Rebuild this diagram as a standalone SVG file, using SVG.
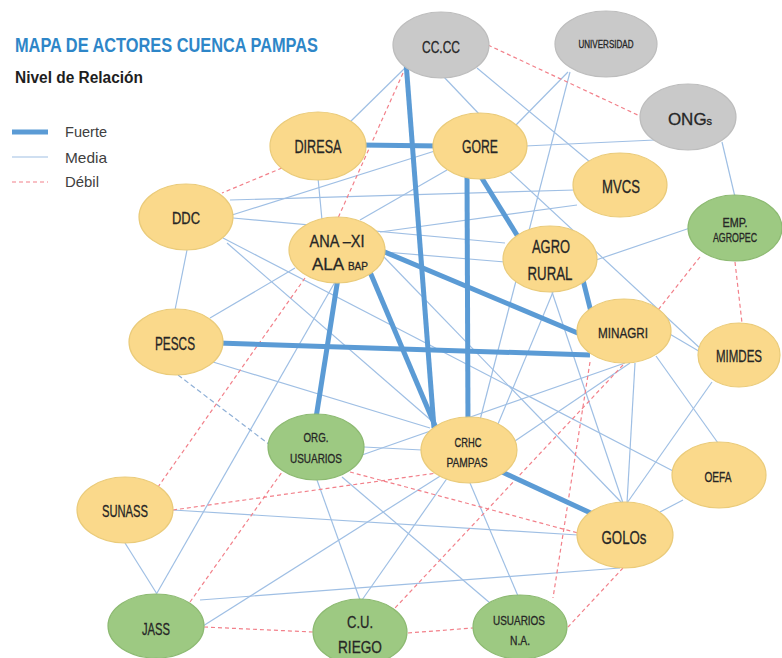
<svg xmlns="http://www.w3.org/2000/svg" width="782" height="658" viewBox="0 0 782 658">
<style>
.bg{fill:#ffffff}
.y{fill:#FAD98B;stroke:#EACB7A;stroke-width:1.2}
.g{fill:#9DC982;stroke:#8DBA72;stroke-width:1.2}
.s{fill:#C9C9C9;stroke:#BDBDBD;stroke-width:1.2}
.t{font-family:"Liberation Sans",Arial,sans-serif;fill:#262626;stroke:#262626;stroke-width:0.3;text-anchor:middle}
.thick{stroke:#5B9BD5;stroke-width:5;fill:none}
.thin{stroke:#9FBFE4;stroke-width:1.2;fill:none}
.weak{stroke:#F2808A;stroke-width:1.2;stroke-dasharray:4 3;fill:none}
.bweak{stroke:#8EAFD6;stroke-width:1.2;stroke-dasharray:5 3;fill:none}
.leg{font-family:"Liberation Sans",Arial,sans-serif;fill:#404040;font-size:15px}
</style>
<rect class="bg" x="0" y="0" width="782" height="658"/>
<g id="title">
<text x="15" y="52" font-family="Liberation Sans,Arial,sans-serif" font-weight="bold" font-size="21" fill="#2E86C8" textLength="303" lengthAdjust="spacingAndGlyphs">MAPA DE ACTORES CUENCA PAMPAS</text>
<text x="15" y="83" font-family="Liberation Sans,Arial,sans-serif" font-weight="bold" font-size="16" fill="#1E1E1E" textLength="128" lengthAdjust="spacingAndGlyphs">Nivel de Relación</text>
</g>
<g id="legend">
<line class="thick" x1="12" y1="132" x2="48" y2="132"/>
<text class="leg" x="65" y="137" textLength="42" lengthAdjust="spacingAndGlyphs">Fuerte</text>
<line class="thin" x1="12" y1="157" x2="48" y2="157"/>
<text class="leg" x="65" y="163" textLength="42" lengthAdjust="spacingAndGlyphs">Media</text>
<line class="weak" x1="12" y1="182" x2="48" y2="182"/>
<text class="leg" x="65" y="187" textLength="34" lengthAdjust="spacingAndGlyphs">Débil</text>
</g>
<g id="connectors">
<line class="thin" x1="405" y1="68" x2="350" y2="122"/>
<line class="thin" x1="443" y1="76" x2="480" y2="115"/>
<line class="thin" x1="477" y1="68" x2="590" y2="162"/>
<line class="thin" x1="568" y1="72" x2="515" y2="126"/>
<line class="thin" x1="570" y1="72" x2="480" y2="420"/>
<line class="thin" x1="525" y1="146" x2="655" y2="140"/>
<line class="thin" x1="722" y1="142" x2="735" y2="197"/>
<line class="thin" x1="318" y1="178" x2="322" y2="220"/>
<line class="thin" x1="232" y1="215" x2="438" y2="150"/>
<line class="thin" x1="230" y1="200" x2="575" y2="190"/>
<line class="thin" x1="233" y1="218" x2="505" y2="243"/>
<line class="thin" x1="187" y1="250" x2="175" y2="310"/>
<line class="thin" x1="223" y1="238" x2="675" y2="472"/>
<line class="thin" x1="227" y1="243" x2="440" y2="428"/>
<line class="thin" x1="447" y1="170" x2="360" y2="220"/>
<line class="thin" x1="508" y1="170" x2="702" y2="350"/>
<line class="thin" x1="210" y1="318" x2="295" y2="268"/>
<line class="thin" x1="213" y1="362" x2="430" y2="428"/>
<line class="thin" x1="173" y1="510" x2="578" y2="535"/>
<line class="thin" x1="200" y1="600" x2="620" y2="568"/>
<line class="thin" x1="125" y1="543" x2="157" y2="594"/>
<line class="thin" x1="157" y1="593" x2="335" y2="282"/>
<line class="thin" x1="203" y1="626" x2="445" y2="473"/>
<line class="thin" x1="364" y1="447" x2="422" y2="450"/>
<line class="thin" x1="317" y1="480" x2="360" y2="600"/>
<line class="thin" x1="342" y1="477" x2="490" y2="603"/>
<line class="thin" x1="362" y1="455" x2="625" y2="363"/>
<line class="thin" x1="362" y1="600" x2="448" y2="477"/>
<line class="thin" x1="518" y1="596" x2="470" y2="483"/>
<line class="thin" x1="512" y1="443" x2="630" y2="363"/>
<line class="thin" x1="553" y1="292" x2="498" y2="424"/>
<line class="thin" x1="552" y1="292" x2="623" y2="503"/>
<line class="thin" x1="383" y1="256" x2="622" y2="503"/>
<line class="thin" x1="635" y1="363" x2="627" y2="503"/>
<line class="thin" x1="712" y1="382" x2="627" y2="503"/>
<line class="thin" x1="683" y1="500" x2="660" y2="512"/>
<line class="thin" x1="668" y1="333" x2="702" y2="353"/>
<line class="thin" x1="656" y1="356" x2="718" y2="443"/>
<line class="thin" x1="596" y1="260" x2="690" y2="228"/>
<line class="thin" x1="385" y1="252" x2="505" y2="262"/>
<line class="thin" x1="380" y1="232" x2="577" y2="205"/>
<line class="bweak" x1="178" y1="375" x2="270" y2="445"/>
<line class="weak" x1="488" y1="45" x2="642" y2="117"/>
<line class="weak" x1="403" y1="73" x2="338" y2="218"/>
<line class="weak" x1="282" y1="168" x2="222" y2="193"/>
<line class="weak" x1="305" y1="278" x2="158" y2="487"/>
<line class="weak" x1="173" y1="510" x2="437" y2="473"/>
<line class="weak" x1="350" y1="472" x2="578" y2="533"/>
<line class="weak" x1="190" y1="602" x2="282" y2="472"/>
<line class="weak" x1="204" y1="627" x2="313" y2="632"/>
<line class="weak" x1="408" y1="633" x2="473" y2="628"/>
<line class="weak" x1="623" y1="365" x2="395" y2="608"/>
<line class="weak" x1="590" y1="362" x2="553" y2="598"/>
<line class="weak" x1="623" y1="568" x2="568" y2="627"/>
<line class="weak" x1="700" y1="257" x2="658" y2="310"/>
<line class="weak" x1="735" y1="262" x2="742" y2="323"/>
<line class="thick" x1="406" y1="62" x2="434" y2="428"/>
<line class="thick" x1="360" y1="145" x2="440" y2="146"/>
<line class="thick" x1="467" y1="172" x2="468" y2="425"/>
<line class="thick" x1="478" y1="172" x2="520" y2="240"/>
<line class="thick" x1="583" y1="280" x2="591" y2="312"/>
<line class="thick" x1="380" y1="250" x2="580" y2="334"/>
<line class="thick" x1="218" y1="343" x2="590" y2="355"/>
<line class="thick" x1="338" y1="278" x2="316" y2="418"/>
<line class="thick" x1="370" y1="272" x2="436" y2="428"/>
<line class="thick" x1="500" y1="471" x2="595" y2="515"/>
</g>
<g id="n-cccc"><ellipse class="s" cx="441" cy="45" rx="48" ry="33"/><text class="t" x="441" y="53" font-size="17" textLength="38" lengthAdjust="spacingAndGlyphs">CC.CC</text></g>
<g id="n-universidad"><ellipse class="s" cx="606" cy="44" rx="51" ry="33"/><text class="t" x="606" y="48" font-size="10" textLength="55" lengthAdjust="spacingAndGlyphs">UNIVERSIDAD</text></g>
<g id="n-ongs"><ellipse class="s" cx="688" cy="117" rx="48" ry="33"/><text class="t" x="690" y="125" font-size="17">ONG<tspan font-size="11">s</tspan></text></g>
<g id="n-diresa"><ellipse class="y" cx="318" cy="146" rx="48" ry="34"/><text class="t" x="318" y="153" font-size="18" textLength="47" lengthAdjust="spacingAndGlyphs">DIRESA</text></g>
<g id="n-gore"><ellipse class="y" cx="480" cy="146" rx="47" ry="33"/><text class="t" x="480" y="153" font-size="18" textLength="36" lengthAdjust="spacingAndGlyphs">GORE</text></g>
<g id="n-mvcs"><ellipse class="y" cx="620" cy="185" rx="47" ry="32"/><text class="t" x="621" y="193" font-size="18" textLength="38" lengthAdjust="spacingAndGlyphs">MVCS</text></g>
<g id="n-ddc"><ellipse class="y" cx="186" cy="217" rx="47" ry="33"/><text class="t" x="186" y="224" font-size="17" textLength="28" lengthAdjust="spacingAndGlyphs">DDC</text></g>
<g id="n-ana"><ellipse class="y" cx="337" cy="250" rx="48" ry="33"/><text class="t" x="337" y="247" font-size="17" textLength="55" lengthAdjust="spacingAndGlyphs">ANA –XI</text><text class="t" x="340" y="270" font-size="17">ALA <tspan font-size="10">BAP</tspan></text></g>
<g id="n-agrorural"><ellipse class="y" cx="550" cy="259" rx="47" ry="33"/><text class="t" x="551" y="253" font-size="18" textLength="38" lengthAdjust="spacingAndGlyphs">AGRO</text><text class="t" x="550" y="280" font-size="18" textLength="45" lengthAdjust="spacingAndGlyphs">RURAL</text></g>
<g id="n-empagropec"><ellipse class="g" cx="735" cy="228" rx="47" ry="33"/><text class="t" x="735" y="227" font-size="12" textLength="25" lengthAdjust="spacingAndGlyphs">EMP.</text><text class="t" x="735" y="242" font-size="12" textLength="44" lengthAdjust="spacingAndGlyphs">AGROPEC</text></g>
<g id="n-pescs"><ellipse class="y" cx="176" cy="342" rx="47" ry="33"/><text class="t" x="175" y="350" font-size="18" textLength="40" lengthAdjust="spacingAndGlyphs">PESCS</text></g>
<g id="n-minagri"><ellipse class="y" cx="624" cy="331" rx="47" ry="32"/><text class="t" x="623" y="338" font-size="15" textLength="50" lengthAdjust="spacingAndGlyphs">MINAGRI</text></g>
<g id="n-mimdes"><ellipse class="y" cx="739" cy="355" rx="41" ry="32"/><text class="t" x="739" y="362" font-size="16" textLength="46" lengthAdjust="spacingAndGlyphs">MIMDES</text></g>
<g id="n-orgusuarios"><ellipse class="g" cx="316" cy="447" rx="48" ry="33"/><text class="t" x="316" y="442" font-size="13" textLength="25" lengthAdjust="spacingAndGlyphs">ORG.</text><text class="t" x="316" y="463" font-size="13" textLength="52" lengthAdjust="spacingAndGlyphs">USUARIOS</text></g>
<g id="n-crhc"><ellipse class="y" cx="469" cy="450" rx="48" ry="33"/><text class="t" x="468" y="447" font-size="13" textLength="27" lengthAdjust="spacingAndGlyphs">CRHC</text><text class="t" x="467" y="467" font-size="13" textLength="41" lengthAdjust="spacingAndGlyphs">PAMPAS</text></g>
<g id="n-oefa"><ellipse class="y" cx="719" cy="475" rx="47" ry="33"/><text class="t" x="718" y="482" font-size="14" textLength="27" lengthAdjust="spacingAndGlyphs">OEFA</text></g>
<g id="n-golos"><ellipse class="y" cx="625" cy="535" rx="48" ry="33"/><text class="t" x="624" y="544" font-size="19" textLength="45" lengthAdjust="spacingAndGlyphs">GOLOs</text></g>
<g id="n-sunass"><ellipse class="y" cx="125" cy="510" rx="48" ry="33"/><text class="t" x="125" y="517" font-size="16" textLength="46" lengthAdjust="spacingAndGlyphs">SUNASS</text></g>
<g id="n-jass"><ellipse class="g" cx="156" cy="626" rx="48" ry="32"/><text class="t" x="156" y="635" font-size="17" textLength="28" lengthAdjust="spacingAndGlyphs">JASS</text></g>
<g id="n-cu-riego"><ellipse class="g" cx="360" cy="632" rx="47" ry="33"/><text class="t" x="360" y="628" font-size="17" textLength="26" lengthAdjust="spacingAndGlyphs">C.U.</text><text class="t" x="360" y="653" font-size="17" textLength="44" lengthAdjust="spacingAndGlyphs">RIEGO</text></g>
<g id="n-usuarios-na"><ellipse class="g" cx="520" cy="627" rx="47" ry="32"/><text class="t" x="519" y="625" font-size="13" textLength="52" lengthAdjust="spacingAndGlyphs">USUARIOS</text><text class="t" x="520" y="645" font-size="13" textLength="20" lengthAdjust="spacingAndGlyphs">N.A.</text></g>
</svg>
